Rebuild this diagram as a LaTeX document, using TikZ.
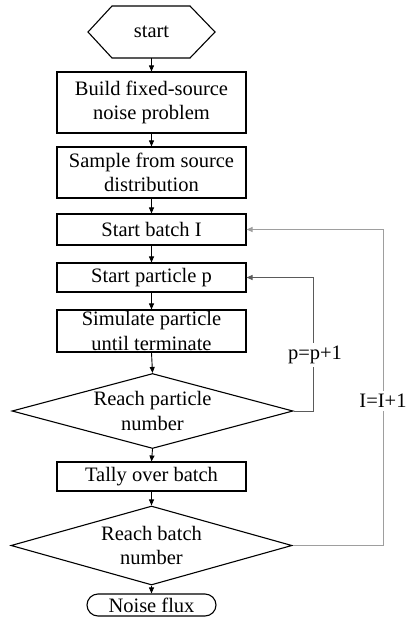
\documentclass[tikz,border=0pt]{standalone}
\usepackage{fontspec}
\setmainfont{Liberation Serif}
\usetikzlibrary{shapes.geometric,shapes.misc,arrows.meta}
\tikzset{
  every node/.style={font=\fontsize{20.5}{24.5}\selectfont, align=center, inner sep=0pt},
  stepbox/.style={draw, line width=1.1pt, minimum width=189pt},
  decision/.style={draw, diamond, line width=1.1pt, minimum width=281pt, inner sep=0pt},
  flow/.style={line width=0.9pt, -{Triangle[length=6pt,width=5pt]}},
  loopline/.style={line width=1pt, -{Triangle[length=6pt,width=5pt]}},
  looplabel/.style={fill=white, inner sep=3pt}
}
\definecolor{loopp}{HTML}{5A5A5A}
\definecolor{loopi}{HTML}{9E9E9E}
\begin{document}
\begin{tikzpicture}[x=1pt,y=-1pt]
\useasboundingbox (0,0) rectangle (407,626);
% start hexagon
\draw[line width=1.1pt] (88,32) -- (112,6) -- (190,6) -- (215,32) -- (190,58) -- (112,58) -- cycle;
\node[minimum width=127pt, minimum height=52pt] (start) at (151.5,32) {start};
\node[stepbox, minimum height=61pt] (build) at (151.5,102.5) {Build fixed-source\\noise problem};
\node[stepbox, minimum height=51pt] (sample) at (151.5,172.5) {Sample from source\\distribution};
\node[stepbox, minimum height=31pt] (batch) at (151.5,229.5) {Start batch I};
\node[stepbox, minimum height=29pt] (particle) at (151.5,277.5) {Start particle p};
\node[stepbox, minimum height=42pt] (simulate) at (151.5,331) {Simulate particle\\until terminate};
\node[decision, minimum height=75pt] (dp) at (152.5,411) {};
\node (dptext) at (152.5,411) {Reach particle\\number};
\node[stepbox, minimum height=29pt] (tally) at (151.5,476.5) {Tally over batch};
\node[decision, minimum height=79pt] (db) at (151.5,545.5) {};
\node (dbtext) at (151.5,545.5) {Reach batch\\number};
\node[draw, rounded rectangle, line width=1.1pt, minimum width=129pt, minimum height=22pt] (flux) at (151.5,605) {Noise flux};

\draw[flow] (start.south) -- (build.north);
\draw[flow] (build.south) -- (sample.north);
\draw[flow] (sample.south) -- (batch.north);
\draw[flow] (batch.south) -- (particle.north);
\draw[flow] (particle.south) -- (simulate.north);
\draw[flow] (simulate.south) -- (dp.north);
\draw[flow] (dp.south) -- (tally.north);
\draw[flow] (tally.south) -- (db.north);
\draw[flow] (db.south) -- (flux.north);

\coordinate (pcorner) at (313,411);
\coordinate (icorner) at (383,545.5);
\draw[loopline, loopp] (dp.east) -- (pcorner) |- (particle.east);
\draw[loopline, loopi] (db.east) -- (icorner) |- (batch.east);
\node[looplabel] (plabel) at (315,355) {p=p+1};
\node[looplabel] (ilabel) at (383,401) {I=I+1};
\end{tikzpicture}
\end{document}
